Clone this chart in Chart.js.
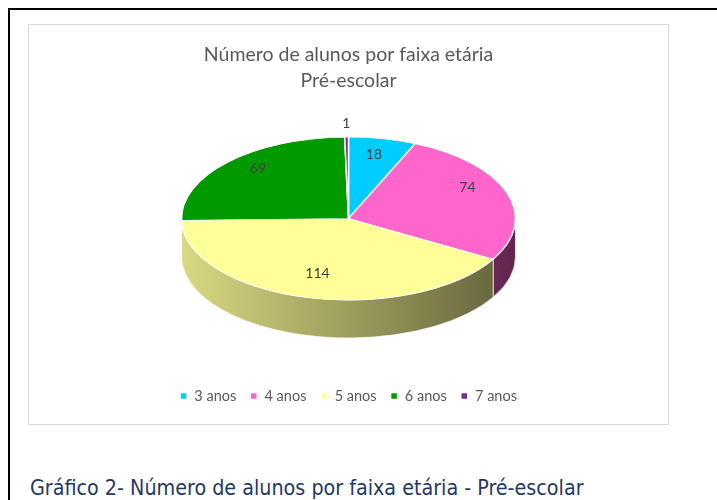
<!DOCTYPE html>
<html><head><meta charset="utf-8">
<script src="https://cdn.jsdelivr.net/npm/chart.js@4"></script>
<style>
html,body{margin:0;padding:0;background:#fff;width:717px;height:500px;overflow:hidden;}
#frame{position:absolute;left:8px;top:8px;width:800px;height:600px;border-top:2px solid #000;border-left:2px solid #000;}
#box{position:absolute;left:28px;top:24px;width:639px;height:399px;border:1px solid #D9D9D9;}
#box canvas{display:block;}
#caption{position:absolute;left:30px;top:475px;font-family:"DejaVu Sans Condensed","DejaVu Sans",sans-serif;font-size:21.3px;color:#1F3864;white-space:nowrap;line-height:26px;}
</style></head>
<body>
<div id="frame"></div>
<div id="box"><canvas id="c" width="639" height="399"></canvas></div>
<div id="caption">Gráfico 2- Número de alunos por faixa etária - Pré-escolar</div>
<script>
// ---- data ----
const categories = ['3 anos', '4 anos', '5 anos', '6 anos', '7 anos'];
const alunos = [18, 74, 114, 69, 1];
const titleLines = ['Número de alunos por faixa etária', 'Pré-escolar'];
const sliceColors = ['#00CCFF', '#FF66CC', '#FFFF99', '#009900', '#7030A0'];

function shade(hex, f) {
  const n = parseInt(hex.slice(1), 16);
  const r = (n >> 16) & 255, g = (n >> 8) & 255, b = n & 255;
  return 'rgb(' + Math.round(r * f) + ',' + Math.round(g * f) + ',' + Math.round(b * f) + ')';
}

const pie3d = {
  id: 'pie3d',
  beforeDatasetsDraw(chart, args, opts) {
    const meta = chart.getDatasetMeta(0);
    const a0 = meta.data[0];
    this._saved = false;
    if (!a0) return;
    const ctx = chart.ctx;
    const cx = a0.x, cy = a0.y, R = a0.outerRadius, k = opts.tilt, D = opts.depth;
    const X = cx, Y = cy - D / 2;
    this._geo = {X, Y, R, k, D, cx, cy};
    meta.data.forEach((arc, i) => {
      const s = arc.startAngle, e = arc.endAngle;
      const col = sliceColors[i];
      for (let n = -1; n <= 2; n++) {
        const lo = Math.max(s, 2 * Math.PI * n), hi = Math.min(e, 2 * Math.PI * n + Math.PI);
        if (hi <= lo) continue;
        const grad = ctx.createLinearGradient(X - R, 0, X + R, 0);
        grad.addColorStop(0, shade(col, 0.85));
        grad.addColorStop(1, shade(col, 0.38));
        ctx.beginPath();
        ctx.ellipse(X, Y, R, R * k, 0, lo, hi, false);
        ctx.ellipse(X, Y + D, R, R * k, 0, hi, lo, true);
        ctx.closePath();
        ctx.fillStyle = grad;
        ctx.fill();
        ctx.strokeStyle = 'rgba(255,255,255,0.85)';
        ctx.lineWidth = 0.8;
        ctx.stroke();
      }
    });
    ctx.save();
    ctx.translate(X, Y);
    ctx.scale(1, k);
    ctx.translate(-cx, -cy);
    this._saved = true;
  },
  afterDatasetsDraw(chart, args, opts) {
    if (!this._saved) return;
    const ctx = chart.ctx;
    ctx.restore();
    const {X, Y, R, k} = this._geo;
    const meta = chart.getDatasetMeta(0);
    const total = alunos.reduce((a, b) => a + b, 0);
    // simple perspective for label placement: far half compressed, near half stretched
    const ry = R * k;
    const Yc = Y - opts.perspective * ry;
    const ryBack = ry * (1 - opts.perspective), ryFront = ry * (1 + opts.perspective);
    ctx.save();
    ctx.font = opts.labelFont;
    ctx.fillStyle = opts.labelColor;
    ctx.textAlign = 'center';
    ctx.textBaseline = 'middle';
    meta.data.forEach((arc, i) => {
      const mid = (arc.startAngle + arc.endAngle) / 2;
      const f = alunos[i] / total < 0.02 ? 1.2 : 0.75;
      const sn = Math.sin(mid);
      const x = X + R * f * Math.cos(mid);
      const y = Yc + f * sn * (sn < 0 ? ryBack : ryFront);
      ctx.fillText(String(alunos[i]), x, y);
    });
    ctx.restore();
  }
};

new Chart(document.getElementById('c'), {
  type: 'pie',
  data: {
    labels: categories,
    datasets: [{
      data: alunos,
      backgroundColor: sliceColors,
      borderColor: '#FFFFFF',
      borderWidth: 1.5,
      radius: 167,
      clip: false,
      hoverOffset: 0
    }]
  },
  plugins: [pie3d],
  options: {
    responsive: false,
    animation: false,
    events: [],
    layout: {padding: {top: 17, bottom: 10.75, left: 0, right: 0}},
    plugins: {
      tooltip: {enabled: false},
      title: {
        display: true,
        text: titleLines,
        color: '#595959',
        font: {family: 'Lato', size: 19.5, weight: 'normal', lineHeight: 26 / 19.5},
        padding: {top: 0, bottom: 6.25}
      },
      legend: {
        position: 'bottom',
        labels: {
          boxWidth: 7, boxHeight: 7, padding: 14,
          color: '#595959',
          font: {family: 'Lato', size: 14.5}
        }
      },
      pie3d: {tilt: 0.488, depth: 38, perspective: 0.19, labelFont: '14px Lato', labelColor: '#404040'}
    }
  }
});
</script>
</body></html>
